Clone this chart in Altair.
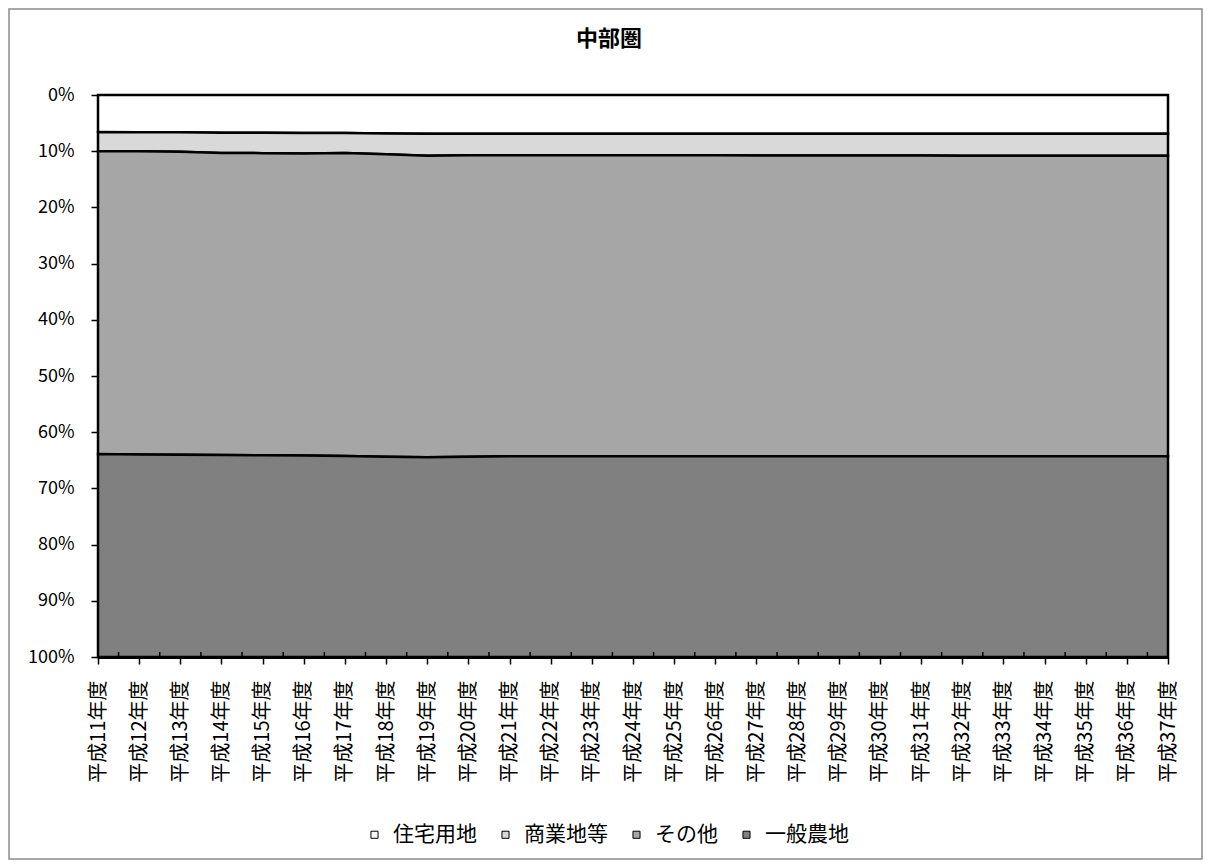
import json
import altair as alt
import pandas as pd

title_text = ["中部圏"]
years = [
    "平成11年度", "平成12年度", "平成13年度", "平成14年度", "平成15年度", "平成16年度",
    "平成17年度", "平成18年度", "平成19年度", "平成20年度", "平成21年度", "平成22年度",
    "平成23年度", "平成24年度", "平成25年度", "平成26年度", "平成27年度", "平成28年度",
    "平成29年度", "平成30年度", "平成31年度", "平成32年度", "平成33年度", "平成34年度",
    "平成35年度", "平成36年度", "平成37年度",
]
series = ["住宅用地", "商業地等", "その他", "一般農地"]
colors = ["#FFFFFF", "#D9D9D9", "#A6A6A6", "#808080"]

residential = [6.6, 6.65, 6.65, 6.7, 6.7, 6.75, 6.75, 6.85, 6.9, 6.9, 6.9, 6.9, 6.9, 6.9,
               6.9, 6.9, 6.9, 6.9, 6.9, 6.9, 6.9, 6.9, 6.9, 6.9, 6.9, 6.9, 6.9]
commercial = [3.4, 3.35, 3.45, 3.6, 3.65, 3.65, 3.55, 3.7, 3.9, 3.8, 3.8, 3.8, 3.8, 3.8,
              3.8, 3.8, 3.85, 3.85, 3.85, 3.85, 3.85, 3.9, 3.9, 3.9, 3.9, 3.9, 3.9]
other = [53.9, 53.95, 53.9, 53.75, 53.75, 53.75, 53.95, 53.8, 53.65, 53.65, 53.6, 53.6, 53.6,
         53.6, 53.6, 53.6, 53.55, 53.55, 53.55, 53.55, 53.55, 53.5, 53.5, 53.5, 53.5, 53.5, 53.5]
farmland = [36.1, 36.05, 36.0, 35.95, 35.9, 35.85, 35.75, 35.65, 35.55, 35.65, 35.7, 35.7, 35.7,
            35.7, 35.7, 35.7, 35.7, 35.7, 35.7, 35.7, 35.7, 35.7, 35.7, 35.7, 35.7, 35.7, 35.7]
y_ticks = [0, 10, 20, 30, 40, 50, 60, 70, 80, 90, 100]

rows = []
for i, yr in enumerate(years):
    for k, (name, vals) in enumerate(zip(series, [residential, commercial, other, farmland])):
        rows.append({"idx": i, "year": yr, "series": name, "order": k, "value": vals[i]})
df = pd.DataFrame(rows)

W, H = 1070, 562
FONT = "Noto Sans CJK JP"
label_expr = json.dumps(years, ensure_ascii=False) + "[datum.value]"

x_scale = alt.Scale(domain=[0, len(years) - 1], nice=False, zero=False)
x_axis = alt.Axis(
    values=list(range(len(years))), labelExpr=label_expr, labelAngle=270, title=None,
    grid=False, labelOverlap=False, labelFlush=False, domainColor="black",
    domainWidth=3, tickColor="black", tickWidth=1.5, tickSize=7, labelPadding=16,
    labelFont=FONT, labelFontSize=20, labelColor="black",
)

area = alt.Chart(df).mark_area(stroke="black", strokeWidth=2.5, interpolate="linear").encode(
    x=alt.X("idx:Q", scale=x_scale, axis=x_axis, title=None),
    y=alt.Y(
        "value:Q",
        stack="zero",
        scale=alt.Scale(domain=[0, 100], reverse=True, nice=False),
        axis=alt.Axis(
            values=y_ticks, labelExpr="datum.value + '%'", title=None, grid=False,
            domainColor="black", domainWidth=2.5, tickColor="black", tickWidth=1.5,
            tickSize=7, labelPadding=17, labelFont=FONT, labelFontSize=18, labelColor="black",
        ),
    ),
    color=alt.Color(
        "series:N",
        scale=alt.Scale(domain=series, range=colors),
        legend=alt.Legend(
            orient="none", legendX=266, legendY=729, direction="horizontal", title=None,
            symbolType="square", symbolSize=50, symbolStrokeColor="black",
            symbolStrokeWidth=1, labelFont=FONT, labelFontSize=21, labelColor="black",
            labelOffset=8, columnPadding=18, padding=0,
        ),
    ),
    order=alt.Order("order:Q"),
)

mids_df = pd.DataFrame({"m": [i + 0.5 for i in range(len(years) - 1)]})
minor = alt.Chart(mids_df).mark_rule(color="black", strokeWidth=1.5).encode(
    x=alt.X("m:Q", scale=x_scale, axis=x_axis, title=None),
    y=alt.value(H - 5),
    y2=alt.value(H),
)

frame = alt.Chart(pd.DataFrame({"f": [0]})).mark_rect(
    fillOpacity=0, stroke="#8c8c8c", strokeWidth=1.5
).encode(
    x=alt.value(-89), x2=alt.value(W + 34), y=alt.value(-86), y2=alt.value(H + 202)
)

title = alt.Chart(pd.DataFrame({"t": title_text})).mark_text(
    font=FONT, fontSize=22, fontWeight="bold", align="center", baseline="middle", color="black"
).encode(text="t:N", x=alt.value(511), y=alt.value(-56))

chart = alt.layer(area, minor, frame, title).properties(
    width=W,
    height=H,
    autosize=alt.AutoSizeParams(type="none"),
    padding={"left": 90, "top": 87, "right": 35, "bottom": 203},
    background="white",
).configure_view(strokeWidth=0)

chart.save("out.html", embed_options={"renderer": "svg", "actions": False})
